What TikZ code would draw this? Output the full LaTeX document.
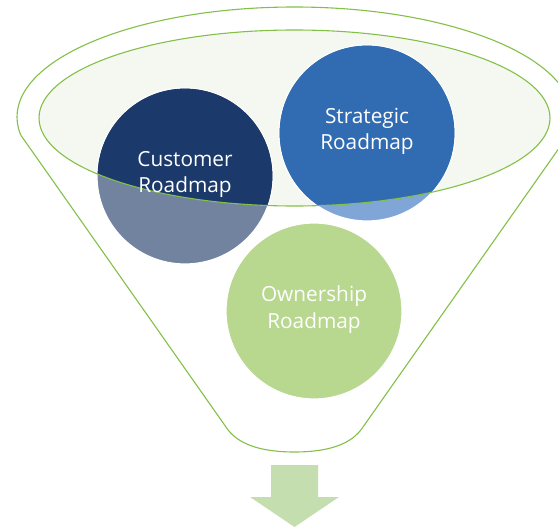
\documentclass[tikz,border=0pt]{standalone}
\usepackage{fontspec}
\setmainfont{Open Sans}
\definecolor{funnelgreen}{RGB}{132,192,72}
\definecolor{ellfill}{RGB}{245,248,240}
\definecolor{custdark}{RGB}{27,58,107}
\definecolor{custlight}{RGB}{114,131,160}
\definecolor{stratdark}{RGB}{49,108,178}
\definecolor{stratlight}{RGB}{127,166,214}
\definecolor{ownfill}{RGB}{184,215,143}
\definecolor{arrowgreen}{RGB}{197,222,176}
\tikzset{
  bubble/.style={circle, minimum size=176pt, inner sep=0pt, draw=white, line width=1.2pt},
  bubbletext/.style={align=center, text=white, font=\fontsize{20.8}{26.5}\selectfont},
  funnelline/.style={draw=funnelgreen, line width=1.1pt},
}
\begin{document}
\begin{tikzpicture}[x=1pt,y=-1pt]
\useasboundingbox (0,0) rectangle (558,527);
\clip (0,0) rectangle (558,527);
% outer funnel top rim
\begin{scope}
  \clip (-10,-10) rectangle (600,135);
  \draw[funnelline] (294.5,117) ellipse [x radius=277.5pt, y radius=110pt];
\end{scope}
\coordinate (fl) at (20.7,135);
\coordinate (fr) at (568.3,135);
\coordinate (bl) at (226,427);
\coordinate (br) at (363,427);
\coordinate (bm) at (294.5,452);
\draw[funnelline] (fl) -- (bl) .. controls (237,444) and (260,452) .. (bm)
  .. controls (329,452) and (352,444) .. (br) -- (fr);
% inner ellipse fill
\fill[ellfill] (294.5,118) ellipse [x radius=255.5pt, y radius=88pt];
% circles (light parts)
\node[bubble, fill=custlight] (cust) at (185,176) {};
\node[bubble, fill=stratlight] (strat) at (367,133) {};
% darker parts inside the ellipse
\begin{scope}
  \clip (294.5,118) ellipse [x radius=255.5pt, y radius=88pt];
  \fill[custdark] (cust.center) circle (87.4pt);
  \fill[stratdark] (strat.center) circle (87.4pt);
\end{scope}
% inner ellipse outline
\draw[funnelline] (294.5,118) ellipse [x radius=255.5pt, y radius=88pt];
\node[bubble, fill=ownfill] (own) at (314,311) {};
% labels
\node[bubbletext] (custtxt) at ([yshift=1.5pt]cust.center) {Customer\\Roadmap};
\node[bubbletext] (strattxt) at ([yshift=1.5pt]strat.center) {Strategic\\Roadmap};
\node[bubbletext] (owntxt) at ([yshift=1.5pt]own.center) {Ownership\\Roadmap};
% arrow
\fill[arrowgreen] (271,465) -- (318,465) -- (318,497) -- (339,497) -- (294.5,527)
  -- (250,497) -- (271,497) -- cycle;
\end{tikzpicture}
\end{document}
